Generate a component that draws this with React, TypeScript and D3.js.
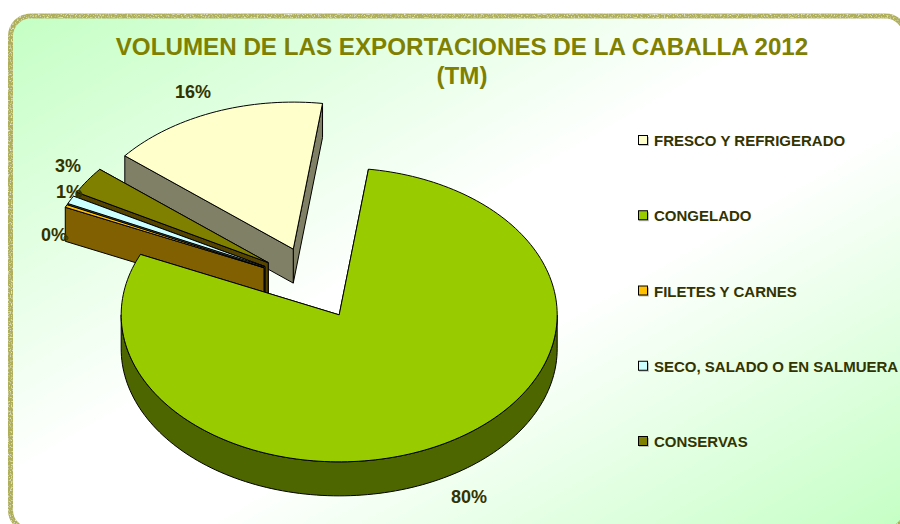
import React from "react";
import * as d3 from "d3";

const categories = ["FRESCO Y REFRIGERADO", "CONGELADO", "FILETES Y CARNES", "SECO, SALADO O EN SALMUERA", "CONSERVAS"];
const values = [16.2, 79.6, 0.3, 0.9, 3.0];
const topColors = ["#FFFFCC", "#99CC00", "#FFC000", "#CCFFFF", "#808000"];
const wallColors = ["#808066", "#4D6600", "#806000", "#668080", "#554400"];
const drawOrder = [0, 4, 3, 2, 1];
const dataLabels = [
  { text: "16%", x: 193, y: 92 },
  { text: "80%", x: 469, y: 497 },
  { text: "0%", x: 54, y: 235 },
  { text: "1%", x: 69, y: 192 },
  { text: "3%", x: 68, y: 166 },
];
const leaderRings = [{ x: 80, y: 194 }, { x: 66, y: 238 }];
const titleLines = ["VOLUMEN DE LAS EXPORTACIONES DE LA CABALLA 2012", "(TM)"];

const W = 900, H = 524;
const cx = 313, cy = 283, rx = 218, ry = 147, depth = 34, explode = 54;
const rad = (d: number) => (d * Math.PI) / 180;
const arcs = d3.pie<number>().sort(null).startAngle(rad(-50.6)).endAngle(rad(309.4))(values);
const legendY = d3.scalePoint<number>().domain(d3.range(categories.length)).range([141, 442]);
const line = d3.line<[number, number]>();
const FONT = "'Liberation Sans', Arial, sans-serif";

function App() {
  const proj = (a: number, r: number, ox: number, oy: number, dz = 0): [number, number] => [
    ox + r * Math.sin(a),
    oy - (r * Math.cos(a) * ry) / rx + dz,
  ];
  const shapes = drawOrder.map((i) => {
    const s = arcs[i];
    const mid = (s.startAngle + s.endAngle) / 2;
    const ox = cx + explode * Math.sin(mid);
    const oy = cy - (explode * Math.cos(mid) * ry) / rx;
    const samples = (a0: number, a1: number) => {
      const n = Math.max(2, Math.ceil(Math.abs(a1 - a0) / rad(1.5)));
      return d3.range(n + 1).map((k) => a0 + ((a1 - a0) * k) / n);
    };
    const top = [[ox, oy] as [number, number], ...samples(s.startAngle, s.endAngle).map((a) => proj(a, rx, ox, oy))];
    const wallFor = (a: number): [number, number][] => [
      [ox, oy], proj(a, rx, ox, oy), proj(a, rx, ox, oy, depth), [ox, oy + depth],
    ];
    const f0 = Math.max(s.startAngle, rad(90)), f1 = Math.min(s.endAngle, rad(270));
    let outer: [number, number][] | null = null;
    if (f1 > f0) {
      const as = samples(f0, f1);
      outer = [...as.map((a) => proj(a, rx, ox, oy)), ...as.slice().reverse().map((a) => proj(a, rx, ox, oy, depth))];
    }
    return { i, top, backWall: wallFor(s.endAngle), frontWall: wallFor(s.startAngle), outer };
  });
  const edge = { stroke: "#000", strokeWidth: 1, strokeLinejoin: "round" as const };
  const path = (p: [number, number][]) => line(p)! + "Z";

  return (
    <svg width={W} height={H} viewBox={`0 0 ${W} ${H}`} style={{ position: "fixed", left: 0, top: 0, background: "#fff" }}>
      <defs>
        <linearGradient id="bg" x1="0" y1="0" x2="1" y2="1">
          <stop offset="0" stopColor="#C4FFC4" />
          <stop offset="0.45" stopColor="#FFFFFF" />
          <stop offset="0.6" stopColor="#FFFFFF" />
          <stop offset="1" stopColor="#C4FFC4" />
        </linearGradient>
        <filter id="grain" x="-2%" y="-2%" width="104%" height="104%">
          <feTurbulence type="fractalNoise" baseFrequency="0.7" numOctaves="2" seed="3" result="n" />
          <feColorMatrix in="n" type="matrix" values="0 0 0 0 1  0 0 0 0 1  0 0 0 0 0.85  0 0 0 2.2 -1.1" result="w" />
          <feComposite in="w" in2="SourceAlpha" operator="in" result="speck" />
          <feMerge>
            <feMergeNode in="SourceGraphic" />
            <feMergeNode in="speck" />
          </feMerge>
        </filter>
      </defs>
      <rect x={10.5} y={16} width={895} height={514} rx={20} fill="url(#bg)" />
      <rect x={10.5} y={16} width={895} height={514} rx={20} fill="none" stroke="#AFAF5A" strokeWidth={5} filter="url(#grain)" />

      {titleLines.map((t, k) => (
        <text key={t} x={462} y={55 + k * 29} textAnchor="middle" fontFamily={FONT} fontWeight="bold" fontSize={24.2} fill="#808000">{t}</text>
      ))}

      {shapes.map((s) => (
        <g key={s.i}>
          <path d={path(s.backWall)} fill={wallColors[s.i]} {...edge} />
          <path d={path(s.frontWall)} fill={wallColors[s.i]} {...edge} />
          {s.outer && <path d={path(s.outer)} fill={wallColors[s.i]} {...edge} />}
          <path d={path(s.top)} fill={topColors[s.i]} {...edge} />
        </g>
      ))}

      {dataLabels.map((d) => (
        <text key={d.text} x={d.x} y={d.y + 6} textAnchor="middle" fontFamily={FONT} fontWeight="bold" fontSize={18} fill="#333300">{d.text}</text>
      ))}
      {leaderRings.map((r) => (
        <circle key={r.x} cx={r.x} cy={r.y} r={2} fill="none" stroke="#333300" strokeWidth={1} />
      ))}

      {categories.map((c, i) => (
        <g key={c}>
          <rect x={639} y={legendY(i)! - 4} width={10} height={9} fill="#999" opacity={0.6} />
          <rect x={638.5} y={legendY(i)! - 5.5} width={9} height={9} fill={topColors[i]} stroke="#000" strokeWidth={1} />
          <text x={654} y={legendY(i)! + 5} fontFamily={FONT} fontWeight="bold" fontSize={15} fill="#333300">{c}</text>
        </g>
      ))}
    </svg>
  );
}

export default App;
